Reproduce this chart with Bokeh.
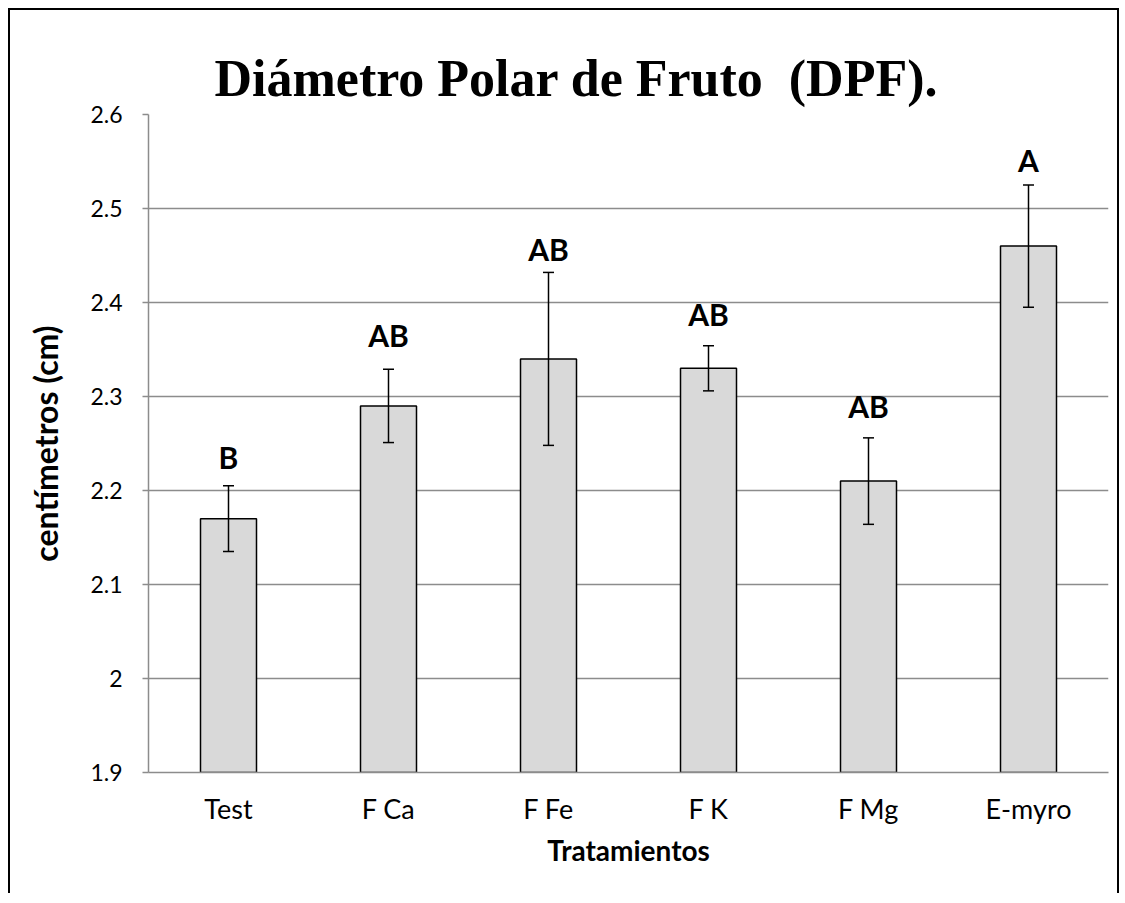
from bokeh.plotting import figure
from bokeh.models import ColumnDataSource, Whisker, TeeHead, FixedTicker, CustomJSTickFormatter, Range1d
from bokeh.core.properties import value
from bokeh.embed import file_html
from bokeh.resources import INLINE

categories = ["Test", "F Ca", "F Fe", "F K", "F Mg", "E-myro"]
means = [2.17, 2.29, 2.34, 2.33, 2.21, 2.46]
errors = [0.035, 0.039, 0.092, 0.024, 0.046, 0.065]
letters = ["B", "AB", "AB", "AB", "AB", "A"]
letter_heights = [2.221, 2.351, 2.442, 2.373, 2.275, 2.537]
y_ticks = [1.9, 2.0, 2.1, 2.2, 2.3, 2.4, 2.5, 2.6]
y_tick_labels = ["1.9", "2", "2.1", "2.2", "2.3", "2.4", "2.5", "2.6"]

src = ColumnDataSource(dict(
    cats=categories,
    means=means,
    upper=[m + e for m, e in zip(means, errors)],
    lower=[m - e for m, e in zip(means, errors)],
    letters=letters,
    ly=letter_heights,
))

p = figure(x_range=categories, y_range=Range1d(1.9, 2.6),
           width=1111, height=885, output_backend="svg", toolbar_location=None,
           min_border_left=138, min_border_right=13, min_border_top=104, min_border_bottom=123,
           title="Diámetro Polar de Fruto\u00a0 (DPF).")
p.styles = {"border-left": "2px solid black", "border-top": "2px solid black",
            "border-right": "2px solid black", "margin-left": "8px", "margin-top": "8px"}
p.background_fill_color = "white"
p.border_fill_color = "white"
p.outline_line_color = None

p.title.text_font = "Liberation Serif"
p.title.text_font_size = "52px"
p.title.text_font_style = "bold"
p.title.align = "left"
p.title.offset = 66
p.title.text_color = "black"
p.title.standoff = 16

p.vbar(x="cats", top="means", bottom=1.9, width=0.35, source=src,
       fill_color="#d9d9d9", line_color="black", line_width=1.5)

w = Whisker(source=src, base="cats", upper="upper", lower="lower",
            line_color="black", line_width=1.5, level="overlay",
            upper_head=TeeHead(size=11, line_color="black", line_width=1.5),
            lower_head=TeeHead(size=11, line_color="black", line_width=1.5))
p.add_layout(w)

p.text(x="cats", y="ly", text="letters", source=src, text_align="center",
       text_baseline="bottom", y_offset=4, text_font=value("Lato"), text_font_style="bold",
       text_font_size="30px", text_color="black")

p.ygrid.grid_line_color = "#8c8c8c"
p.ygrid.grid_line_width = 1.5
p.xgrid.grid_line_color = None

p.yaxis.ticker = FixedTicker(ticks=y_ticks)
p.yaxis.formatter = CustomJSTickFormatter(args=dict(yt=y_ticks, yl=y_tick_labels), code="""
let best = 0; let d = 1e9;
for (let i = 0; i < yt.length; i++) { const dd = Math.abs(yt[i] - tick); if (dd < d) { d = dd; best = i; } }
return yl[best];
""")
p.yaxis.axis_line_color = "#8c8c8c"
p.yaxis.axis_line_width = 1.5
p.yaxis.major_tick_line_color = "#8c8c8c"
p.yaxis.major_tick_line_width = 1.5
p.yaxis.major_tick_out = 6
p.yaxis.major_tick_in = 0
p.yaxis.minor_tick_line_color = None
p.yaxis.major_label_text_font = "Lato"
p.yaxis.major_label_text_font_size = "23px"
p.yaxis.major_label_text_color = "black"
p.yaxis.major_label_standoff = 20
p.yaxis.axis_label = "centímetros (cm)"
p.yaxis.axis_label_text_font = "Lato"
p.yaxis.axis_label_text_font_style = "bold"
p.yaxis.axis_label_text_font_size = "32px"
p.yaxis.axis_label_text_color = "black"
p.yaxis.axis_label_standoff = 22

p.xaxis.axis_line_color = "#8c8c8c"
p.xaxis.axis_line_width = 1.5
p.xaxis.major_tick_line_color = None
p.xaxis.minor_tick_line_color = None
p.xaxis.major_label_text_font = "Lato"
p.xaxis.major_label_text_font_size = "27px"
p.xaxis.major_label_text_color = "black"
p.xaxis.major_label_standoff = 13
p.xaxis.axis_label = "Tratamientos"
p.xaxis.axis_label_text_font = "Lato"
p.xaxis.axis_label_text_font_style = "bold"
p.xaxis.axis_label_text_font_size = "28px"
p.xaxis.axis_label_text_color = "black"
p.xaxis.axis_label_standoff = 5

open("out.html", "w").write(file_html(p, INLINE))
